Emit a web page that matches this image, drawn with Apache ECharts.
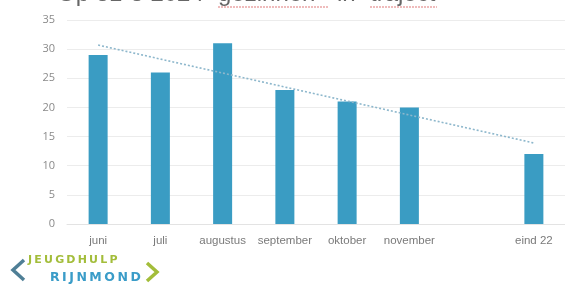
<!DOCTYPE html>
<html>
<head>
<meta charset="utf-8">
<script src="https://cdn.jsdelivr.net/npm/echarts@6/dist/echarts.min.js"></script>
<style>
  html, body { margin: 0; padding: 0; background: #fff; }
  #chart { width: 565px; height: 284px; }
</style>
</head>
<body>
<div id="chart"></div>
<script>
// maanden (lege plek tussen november en eind 22)
var categories = ['juni', 'juli', 'augustus', 'september', 'oktober', 'november', '', 'eind 22'];
var aantallen = [29, 26, 31, 23, 21, 20, null, 12];
// trendlijn: alleen begin- en eindpunt
var trend = [30.7, null, null, null, null, null, null, 13.9];
var yTicks = [0, 5, 10, 15, 20, 25, 30, 35];

// letters iets uit elkaar zetten met een smalle spatie
function spaced(s) {
    return s.split('').join('\u2009');
}

var myChart = echarts.init(document.getElementById('chart'));

var titleFont = '24px "Liberation Sans"';
var option = {
    animation: false,
    backgroundColor: '#fff',
    grid: { left: 67, right: -2, top: 20, bottom: 60 },
    xAxis: {
        type: 'category',
        data: categories,
        axisLine: { show: true, lineStyle: { color: '#e3e3e3' } },
        axisTick: { show: false },
        axisLabel: { color: '#7a7a7a', fontSize: 11.5, fontFamily: 'Liberation Sans', margin: 11, interval: 0 }
    },
    yAxis: {
        type: 'value',
        min: yTicks[0],
        max: yTicks[yTicks.length - 1],
        interval: 5,
        axisLine: { show: false },
        axisTick: { show: false },
        axisLabel: { color: '#8a8a8a', fontSize: 11, fontFamily: 'Open Sans', margin: 12 },
        splitLine: { lineStyle: { color: '#ececec', width: 1 } }
    },
    series: [
        {
            type: 'bar',
            data: aantallen,
            barWidth: 19,
            itemStyle: { color: '#3a9cc3' }
        },
        {
            type: 'line',
            data: trend,
            connectNulls: true,
            symbol: 'none',
            lineStyle: { color: '#8db7cc', width: 1.6, type: [2, 2] },
            z: 3
        }
    ],
    graphic: [
        // afgesneden titel bovenaan
        { type: 'text', left: 57, top: -18, style: { text: 'Op 31-8 2024', fill: '#666', font: titleFont } },
        { type: 'text', left: 218, top: -18, style: { text: 'gezinnen', fill: '#666', font: titleFont } },
        { type: 'text', left: 337, top: -18, style: { text: 'in', fill: '#666', font: titleFont } },
        { type: 'text', left: 370, top: -18, style: { text: 'traject', fill: '#666', font: titleFont } },
        { type: 'line', shape: { x1: 218, y1: 7, x2: 328, y2: 7 }, style: { stroke: '#e07a7a', lineWidth: 1.2, lineDash: [2, 1] } },
        { type: 'line', shape: { x1: 370, y1: 7, x2: 437, y2: 7 }, style: { stroke: '#e07a7a', lineWidth: 1.2, lineDash: [2, 1] } },
        // logo
        { type: 'polyline', shape: { points: [[24, 260], [13, 270], [24, 280]] }, style: { stroke: '#4f7f96', lineWidth: 3.5, fill: null } },
        { type: 'text', left: 28, top: 255, style: { text: spaced('JEUGDHULP'), fill: '#a3bd3a', font: 'bold 11px "DejaVu Sans"' } },
        { type: 'text', left: 50, top: 271, style: { text: spaced('RIJNMOND'), fill: '#3a9cc8', font: 'bold 12.5px "DejaVu Sans"' } },
        { type: 'polyline', shape: { points: [[147, 263], [157, 272], [147, 281]] }, style: { stroke: '#a3bd3a', lineWidth: 3.5, fill: null } }
    ]
};

myChart.setOption(option);
</script>
</body>
</html>
